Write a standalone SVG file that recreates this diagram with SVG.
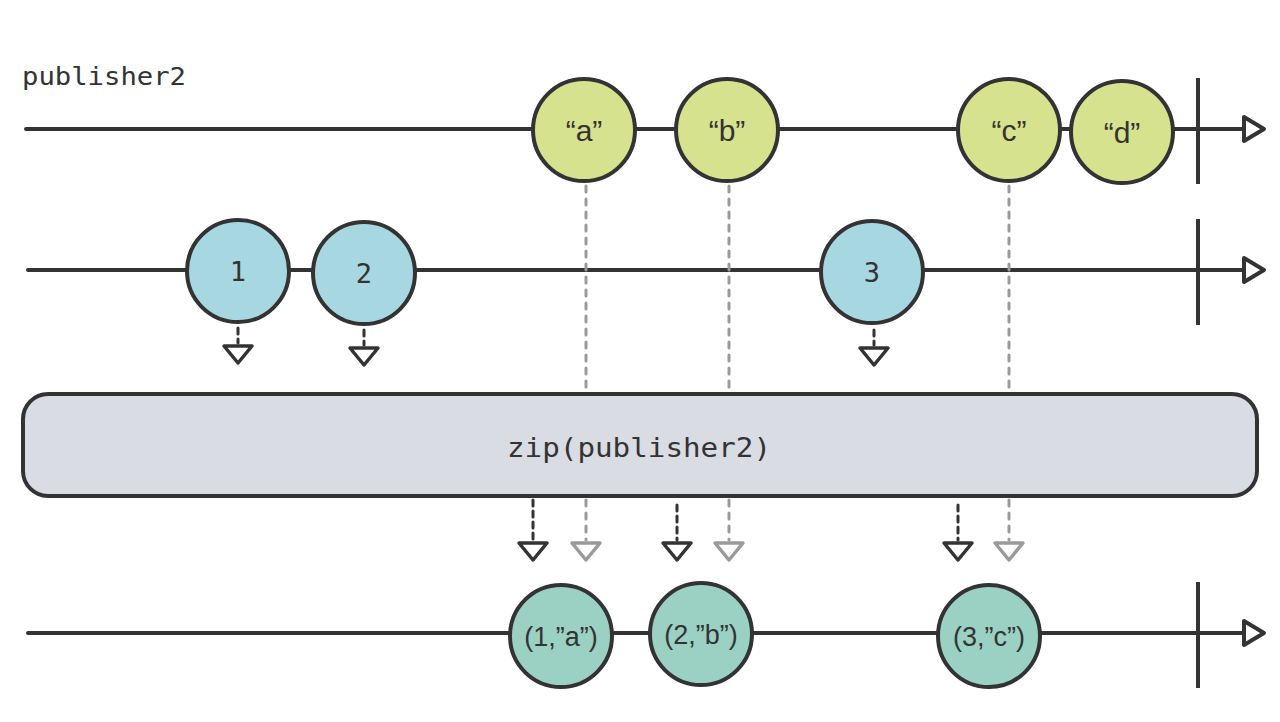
<svg xmlns="http://www.w3.org/2000/svg" width="1280" height="722" viewBox="0 0 1280 722">
<style>
.line{stroke:#333;stroke-width:4;fill:none;stroke-linecap:round}
.bar{stroke:#333;stroke-width:4;fill:none}
.head{stroke:#333;stroke-width:4;fill:#fff;stroke-linejoin:round}
.c{stroke:#333;stroke-width:4}
.lime{fill:#d6e28d}
.blue{fill:#a7d8e1}
.teal{fill:#9bd1c2}
.lbl{font-family:"Liberation Sans",Arial,sans-serif;font-size:30px;fill:#333;text-anchor:middle}
.tup{font-family:"Liberation Sans",Arial,sans-serif;font-size:27px;fill:#333;text-anchor:middle}
.num{font-family:"DejaVu Sans Mono","Liberation Mono",monospace;font-size:27px;fill:#333;text-anchor:middle}
.mono{font-family:"DejaVu Sans Mono","Liberation Mono",monospace;fill:#333}
.dd{stroke:#333;stroke-width:3;stroke-dasharray:6 5;fill:none;stroke-linecap:round}
.dg{stroke:#9a9a9a;stroke-width:3;stroke-dasharray:6 7;fill:none;stroke-linecap:round}
.td{stroke:#333;stroke-width:3.5;fill:#fff;stroke-linejoin:round}
.tg{stroke:#9a9a9a;stroke-width:3.5;fill:#fff;stroke-linejoin:round}
</style>
<rect width="1280" height="722" fill="#fff"/>
<text x="22" y="85" class="mono" font-size="25" textLength="164" lengthAdjust="spacingAndGlyphs">publisher2</text>

<g id="timelines">
<line class="line" x1="26" y1="129" x2="1244" y2="129"/>
<line class="bar" x1="1198" y1="78" x2="1198" y2="184"/>
<path class="head" d="M1244,117 L1264,129 L1244,141 Z"/>
<line class="line" x1="28" y1="270" x2="1244" y2="270"/>
<line class="bar" x1="1198" y1="219" x2="1198" y2="325"/>
<path class="head" d="M1244,258 L1264,270 L1244,282 Z"/>
<line class="line" x1="28" y1="633" x2="1244" y2="633"/>
<line class="bar" x1="1198" y1="582" x2="1198" y2="688"/>
<path class="head" d="M1244,621 L1264,633 L1244,645 Z"/>
</g>

<g id="connectors">
<line class="dg" x1="586" y1="186" x2="586" y2="392"/>
<line class="dg" x1="729" y1="186" x2="729" y2="392"/>
<line class="dg" x1="1009" y1="186" x2="1009" y2="392"/>
<line class="dd" x1="238" y1="328" x2="238" y2="343"/>
<path class="td" d="M224,346 L252,346 L238,363 Z"/>
<line class="dd" x1="364" y1="330" x2="364" y2="345"/>
<path class="td" d="M350,348 L378,348 L364,365 Z"/>
<line class="dd" x1="874" y1="330" x2="874" y2="345"/>
<path class="td" d="M860,348 L888,348 L874,365 Z"/>

<line class="dd" x1="533" y1="500" x2="533" y2="540"/>
<path class="td" d="M519,543 L547,543 L533,560 Z"/>
<line class="dg" x1="586" y1="500" x2="586" y2="540"/>
<path class="tg" d="M572,543 L600,543 L586,560 Z"/>
<line class="dd" x1="677" y1="505" x2="677" y2="540"/>
<path class="td" d="M663,543 L691,543 L677,560 Z"/>
<line class="dg" x1="729" y1="500" x2="729" y2="540"/>
<path class="tg" d="M715,543 L743,543 L729,560 Z"/>
<line class="dd" x1="958" y1="505" x2="958" y2="540"/>
<path class="td" d="M944,543 L972,543 L958,560 Z"/>
<line class="dg" x1="1009" y1="500" x2="1009" y2="540"/>
<path class="tg" d="M995,543 L1023,543 L1009,560 Z"/>
</g>

<g id="node-a"><circle class="c lime" cx="584" cy="130" r="51"/><text class="lbl" x="584" y="141">“a”</text></g>
<g id="node-b"><circle class="c lime" cx="727" cy="130" r="51"/><text class="lbl" x="727" y="141">“b”</text></g>
<g id="node-c"><circle class="c lime" cx="1009" cy="130" r="51"/><text class="lbl" x="1009" y="141">“c”</text></g>
<g id="node-d"><circle class="c lime" cx="1122" cy="132" r="51"/><text class="lbl" x="1122" y="143">“d”</text></g>

<g id="node-1"><circle class="c blue" cx="238" cy="271" r="51"/><text class="num" x="238" y="281">1</text></g>
<g id="node-2"><circle class="c blue" cx="364" cy="273" r="51"/><text class="num" x="364" y="283">2</text></g>
<g id="node-3"><circle class="c blue" cx="872" cy="272" r="51"/><text class="num" x="872" y="282">3</text></g>

<g id="zip-box">
<rect x="23" y="394" width="1234" height="102" rx="25" fill="#d9dce3" stroke="#333" stroke-width="4"/>
<text class="mono" x="507" y="457" font-size="26" textLength="264" lengthAdjust="spacingAndGlyphs">zip(publisher2)</text>
</g>

<g id="node-1a"><circle class="c teal" cx="561" cy="636" r="51"/><text class="tup" x="561" y="646">(1,”a”)</text></g>
<g id="node-2b"><circle class="c teal" cx="701" cy="634" r="51"/><text class="tup" x="701" y="644">(2,”b”)</text></g>
<g id="node-3c"><circle class="c teal" cx="989" cy="636" r="51"/><text class="tup" x="989" y="646">(3,”c”)</text></g>
</svg>
